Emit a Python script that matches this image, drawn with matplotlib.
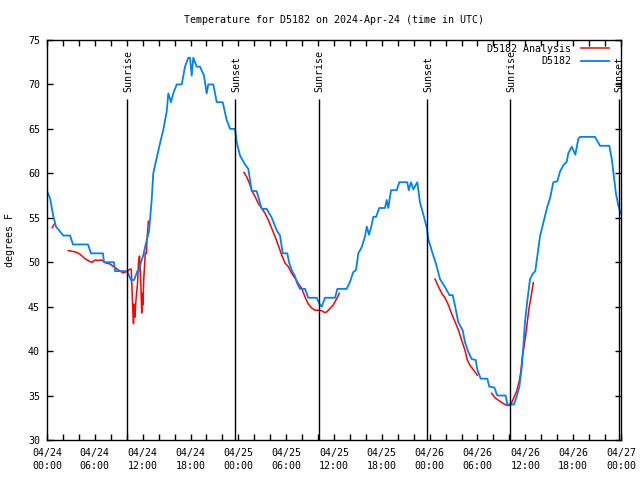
import numpy as np
import matplotlib
matplotlib.use("Agg")
import matplotlib.pyplot as plt
from matplotlib.lines import Line2D

# ---------------- data (hours since 2024-04-24 00:00 UTC, degrees F) ----------------
obs_hours = [0.00, 0.38, 0.79, 1.13, 2.04, 2.89, 3.26, 5.14, 5.52, 7.02, 7.15, 8.40, 8.53,
             10.07, 10.29, 10.54, 10.92, 11.33, 11.54, 11.79, 12.08, 12.38, 12.80, 13.13,
             13.33, 13.76, 14.18, 14.59, 15.02, 15.22, 15.55, 15.84, 16.27, 16.90, 17.31,
             17.72, 17.94, 18.15, 18.35, 18.78, 19.19, 19.69, 20.03, 20.23, 20.86, 21.29,
             22.04, 22.54, 22.96, 23.58, 23.80, 24.21, 24.84, 25.25, 25.68, 26.30, 26.93,
             27.56, 28.19, 28.81, 29.23, 29.57, 30.14, 30.36, 30.70, 31.11, 31.40, 31.74,
             32.36, 32.78, 33.83, 34.24, 34.46, 34.87, 36.13, 36.42, 37.59, 38.01, 38.42,
             38.76, 39.05, 39.48, 39.89, 40.11, 40.39, 40.73, 40.93, 41.27, 41.68, 42.40,
             42.61, 42.81, 43.15, 43.87, 44.19, 45.20, 45.37, 45.66, 45.95, 46.45, 46.79,
             47.20, 47.63, 47.83, 48.26, 48.80, 49.30, 49.93, 50.47, 50.89, 51.18, 51.59,
             52.15, 52.43, 52.85, 53.27, 53.78, 53.98, 54.40, 55.23, 55.48, 56.11, 56.49,
             57.54, 57.74, 58.58, 58.92, 59.25, 59.55, 59.75, 59.96, 60.25, 60.59, 60.93,
             61.25, 61.55, 61.84, 62.34, 62.76, 63.10, 63.51, 64.01, 64.35, 64.76, 65.19,
             65.39, 65.82, 66.27, 66.65, 66.86, 68.74, 69.37, 70.53, 70.83, 71.12, 71.37,
             71.66, 71.96]
obs_temps = [58.0, 57.2, 55.2, 54.0, 53.0, 53.0, 52.0, 52.0, 51.0, 51.0, 50.0, 50.0, 49.0,
             49.0, 48.5, 48.0, 48.0, 49.0, 49.0, 50.0, 50.8, 52.0, 53.5, 57.0,
             60.0, 61.7, 63.4, 64.9, 67.0, 69.0, 68.0, 69.0, 70.0, 70.0, 72.0,
             73.0, 73.0, 71.0, 73.0, 72.0, 72.0, 71.0, 69.0, 70.0, 70.0, 68.0,
             68.0, 66.0, 65.0, 65.0, 63.5, 62.0, 61.0, 60.5, 58.0, 58.0, 56.0,
             56.0, 55.0, 53.6, 53.0, 51.0, 51.0, 50.0, 49.1, 48.4, 47.6, 47.0,
             47.0, 46.0, 46.0, 45.2, 45.0, 46.0, 46.0, 47.0, 47.0, 47.8, 48.9,
             49.1, 51.0, 51.7, 52.9, 54.0, 53.1, 54.2, 55.1, 55.1, 56.1, 56.1,
             57.0, 56.1, 58.1, 58.1, 59.0, 59.0, 58.1, 59.0, 58.2, 59.0, 56.7,
             55.4, 53.9, 52.6, 51.3, 49.8, 48.1, 47.2, 46.3, 46.3, 45.1, 43.25,
             42.3, 41.0, 39.9, 39.1, 39.0, 37.9, 36.9, 36.9, 36.0, 35.9, 35.0,
             35.0, 34.0, 34.0, 34.9, 36.0, 38.2, 40.5, 43.3, 45.7, 48.1, 48.7,
             49.0, 51.0, 52.9, 54.75, 56.25, 57.2, 59.0, 59.1, 60.2, 60.9, 61.3,
             62.25, 63.0, 62.1, 63.9, 64.1, 64.1, 63.1, 63.1, 61.7, 59.6, 57.7,
             56.4, 55.5]

nan = float("nan")
ana_hours = [0.66, 0.92, nan,
             2.67, 3.10, 3.73, 4.14, 4.77, 5.39, 5.68, 6.02, 6.44, 6.86, 7.28, 7.90, 8.53,
             9.16, 9.57, 9.78, 10.00, 10.35, 10.57, 10.70, 10.79, 10.85, 10.94, 11.01,
             11.10, 11.23, 11.35, 11.48, 11.60, 11.70, 11.79, 11.88, 11.95, 12.04, 12.13,
             12.23, 12.33, 12.46, 12.54, 12.71, nan,
             24.71, 25.05, 25.38, 25.72, 26.09, 26.51, 26.93, 27.35, 27.76, 28.19, 28.60,
             29.01, 29.44, 29.86, 30.27, 30.70, 31.11, 31.52, 31.95, 32.36, 32.78, 33.20,
             33.62, 34.03, 34.46, 34.78, 35.09, 35.50, 35.91, 36.34, 36.67, nan,
             48.67, 49.08, 49.51, 49.92, 50.34, 50.76, 51.18, 51.59, 52.02, 52.43, 52.72,
             53.06, 53.48, 53.98, nan,
             55.78, 56.20, 56.74, 57.24, 57.66, 58.08, 58.29, 58.62, 58.92, 59.25, 59.42,
             59.62, 59.84, 60.05, 60.25, 60.46, 60.68, 61.00]
ana_temps = [53.9, 54.3, nan,
             51.3, 51.25, 51.1, 50.9, 50.4, 50.06, 50.0, 50.25, 50.2, 50.25, 49.95, 49.8, 49.4,
             49.0, 48.8, 48.9, 48.9, 49.2, 49.2, 46.0, 44.0, 43.1, 45.3, 43.8,
             45.0, 46.5, 47.5, 50.0, 50.7, 49.2, 47.0, 44.3, 46.5, 45.2, 48.0,
             49.5, 51.0, 51.0, 52.5, 54.6, nan,
             60.1, 59.6, 58.9, 58.0, 57.4, 56.6, 56.1, 55.5, 54.75, 53.8, 52.9,
             51.9, 50.8, 49.9, 49.5, 48.75, 48.2, 47.6, 47.06, 46.1, 45.3, 44.85,
             44.6, 44.6, 44.55, 44.35, 44.4, 44.8, 45.2, 45.9, 46.5, nan,
             48.1, 47.3, 46.5, 46.0, 45.2, 44.2, 43.3, 42.4, 41.2, 40.1, 39.0,
             38.4, 37.9, 37.3, nan,
             35.25, 34.75, 34.4, 34.1, 33.9, 33.9, 34.2, 34.9, 35.5, 36.7, 37.6,
             39.3, 40.5, 41.8, 43.3, 44.8, 45.9, 47.7]

sun_hours = [10.07, 23.62, 34.10, 47.70, 58.12, 71.75]
sun_labels = ["Sunrise", "Sunset", "Sunrise", "Sunset", "Sunrise", "Sunset"]
sun_line_top = 68.35
sun_label_y = 69.1

xtick_hours = list(range(0, 73, 2))
xlabel_hours = [0, 6, 12, 18, 24, 30, 36, 42, 48, 54, 60, 66, 72]
xlabel_text = ["04/24\n00:00", "04/24\n06:00", "04/24\n12:00", "04/24\n18:00",
               "04/25\n00:00", "04/25\n06:00", "04/25\n12:00", "04/25\n18:00",
               "04/26\n00:00", "04/26\n06:00", "04/26\n12:00", "04/26\n18:00",
               "04/27\n00:00"]
yticks = [30, 35, 40, 45, 50, 55, 60, 65, 70, 75]

title = "Temperature for D5182 on 2024-Apr-24 (time in UTC)"
ylabel = "degrees F"
series_names = ["D5182 Analysis", "D5182"]
colors = ["#ff0000", "#0080ff"]

# ---------------- figure ----------------
FONT = "DejaVu Sans Mono"
FS = 7.2
plt.rcParams["font.family"] = FONT
plt.rcParams["font.size"] = FS

fig = plt.figure(figsize=(6.4, 4.8), dpi=100)
ax = fig.add_axes([47 / 640, 40 / 480, 574 / 640, 400 / 480])

ax.plot(ana_hours, ana_temps, color=colors[0], lw=1.1)
ax.plot(obs_hours, obs_temps, color=colors[1], lw=1.3)

ax.vlines(sun_hours, 30, sun_line_top, color="black", lw=1.0)
for h, lab in zip(sun_hours, sun_labels):
    ax.text(h + 0.1, sun_label_y, lab, rotation=90, ha="center", va="bottom",
            fontsize=FS)

ax.set_xlim(0, 72)
ax.set_ylim(30, 75)
ax.set_xticks(xtick_hours)
lab_map = dict(zip(xlabel_hours, xlabel_text))
ax.set_xticklabels([lab_map.get(h, "") for h in xtick_hours], linespacing=1.3)
ax.set_yticks(yticks)
ax.tick_params(direction="in", length=4.5, width=1, top=True, right=True,
               labelsize=FS, color="black")
ax.tick_params(axis="x", pad=6)
ax.tick_params(axis="y", pad=5)
for s in ax.spines.values():
    s.set_linewidth(1.0)

fig.text(334 / 640, 1 - 20 / 480, title, ha="center", va="center", fontsize=FS)
fig.text(10 / 640, 0.5, ylabel, rotation=90, ha="center", va="center", fontsize=FS)

handles = [Line2D([], [], color=colors[0], lw=1.1),
           Line2D([], [], color=colors[1], lw=1.3)]
ax.legend(handles, series_names, loc="upper right", markerfirst=False, frameon=False,
          fontsize=FS, handlelength=2.8, handletextpad=1.0, labelspacing=0.25,
          borderaxespad=0.0, borderpad=0.0,
          bbox_to_anchor=(1 - 12 / 574, 1 - 4 / 400))

fig.savefig("out.png", dpi=100)
